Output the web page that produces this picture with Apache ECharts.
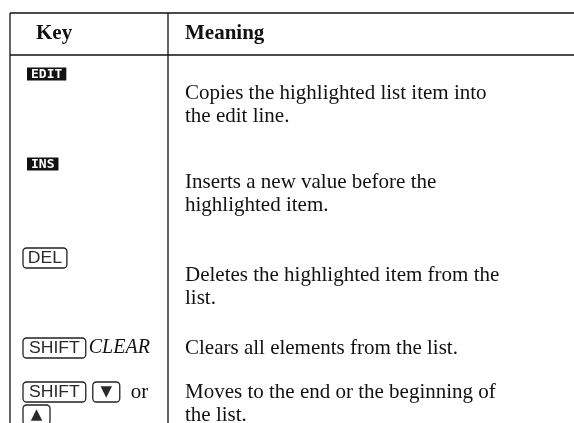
<!DOCTYPE html>
<html><head><meta charset="utf-8">
<script src="https://cdn.jsdelivr.net/npm/echarts@6/dist/echarts.min.js"></script>
<style>html,body{margin:0;padding:0;background:#fff}#c{width:574px;height:423px}</style>
</head><body><div id="c"></div>
<script>
const headers = ['Key', 'Meaning'];
// key cell tokens: [type, text]; each inner array is one line
const keyCells = [
  [[['menu', 'EDIT']]],
  [[['menu', 'INS']]],
  [[['key', 'DEL']]],
  [[['key', 'SHIFT'], ['ital', 'CLEAR']]],
  [[['key', 'SHIFT'], ['key', '▼'], ['text', 'or']], [['key', '▲']]]
];
const meanings = [
  ['Copies the highlighted list item into', 'the edit line.'],
  ['Inserts a new value before the', 'highlighted item.'],
  ['Deletes the highlighted item from the', 'list.'],
  ['Clears all elements from the list.'],
  ['Moves to the end or the beginning of', 'the list.']
];

const W = 574, H = 423;
const X0 = 10, XS = 168, Y0 = 13, YH = 55;
const keyX = 23, textX = 185;
const lead = 23;
const keyY = [74, 164, 258, 348, 392];
const textY = [93, 182, 275, 348, 392];
const serif = '"Liberation Serif", "Times New Roman", serif';
const sans = '"Liberation Sans", Arial, sans-serif';

const cv = document.createElement('canvas').getContext('2d');
function mw(t, f) { cv.font = f; return cv.measureText(t).width; }

const g = [];
const line = (x1, y1, x2, y2) => g.push({type: 'line', shape: {x1, y1, x2, y2}, style: {stroke: '#111', lineWidth: 1.3}, silent: true});
line(X0, Y0, W, Y0);
line(X0, YH, W, YH);
line(X0, Y0, X0, H);
line(XS, Y0, XS, H);

const hf = 'bold 21px ' + serif;
g.push({type: 'text', x: 36, y: 34, style: {text: headers[0], font: hf, fill: '#111', textVerticalAlign: 'middle'}});
g.push({type: 'text', x: textX, y: 34, style: {text: headers[1], font: hf, fill: '#111', textVerticalAlign: 'middle'}});

const bf = '21px ' + serif;
meanings.forEach((ls, i) => {
  ls.forEach((t, j) => {
    g.push({type: 'text', x: textX, y: textY[i] + j * lead, style: {text: t, font: bf, fill: '#111', textVerticalAlign: 'middle'}});
  });
});

const kf = '16px ' + sans;
const mf = 'bold 13px "DejaVu Sans Mono", monospace';
const itf = 'italic 20px ' + serif;
keyCells.forEach((cell, i) => {
  cell.forEach((toks, j) => {
    let x = keyX;
    const cy = keyY[i] + j * lead;
    toks.forEach(([type, s]) => {
      if (type === 'menu') {
        const w = mw(s, mf) + 8;
        g.push({type: 'rect', shape: {x: x + 4, y: cy - 6.5, width: w, height: 13}, style: {fill: '#111'}});
        g.push({type: 'text', x: x + 4 + w / 2, y: cy + 0.5, style: {text: s, font: mf, fill: '#fff', textAlign: 'center', textVerticalAlign: 'middle'}});
        x += w + 10;
      } else if (type === 'key') {
        const isSym = s === '▼' || s === '▲';
        const tw = mw(s, kf);
        const w = isSym ? 27 : tw * 1.25 + 5;
        g.push({type: 'rect', shape: {x: x, y: cy - 10, width: w, height: 20, r: 3.5}, style: {fill: 'none', stroke: '#222', lineWidth: 1.3}});
        g.push({type: 'text', x: x + w / 2, y: cy + 0.5, scaleX: isSym ? 1 : 1.1, style: {text: s, font: isSym ? '15px "DejaVu Sans", sans-serif' : kf, fill: '#2a2a2a', textAlign: 'center', textVerticalAlign: 'middle'}});
        x += w + 7;
      } else if (type === 'ital') {
        x -= 4;
        g.push({type: 'text', x: x, y: cy, style: {text: s, font: itf, fill: '#111', textVerticalAlign: 'middle'}});
        x += mw(s, itf) + 6;
      } else {
        x += 4;
        g.push({type: 'text', x: x, y: cy, style: {text: s, font: bf, fill: '#111', textVerticalAlign: 'middle'}});
        x += mw(s, bf) + 6;
      }
    });
  });
});

const chart = echarts.init(document.getElementById('c'), null, {renderer: 'canvas', width: W, height: H});
chart.setOption({backgroundColor: '#fff', animation: false, graphic: {elements: g}});
</script></body></html>
